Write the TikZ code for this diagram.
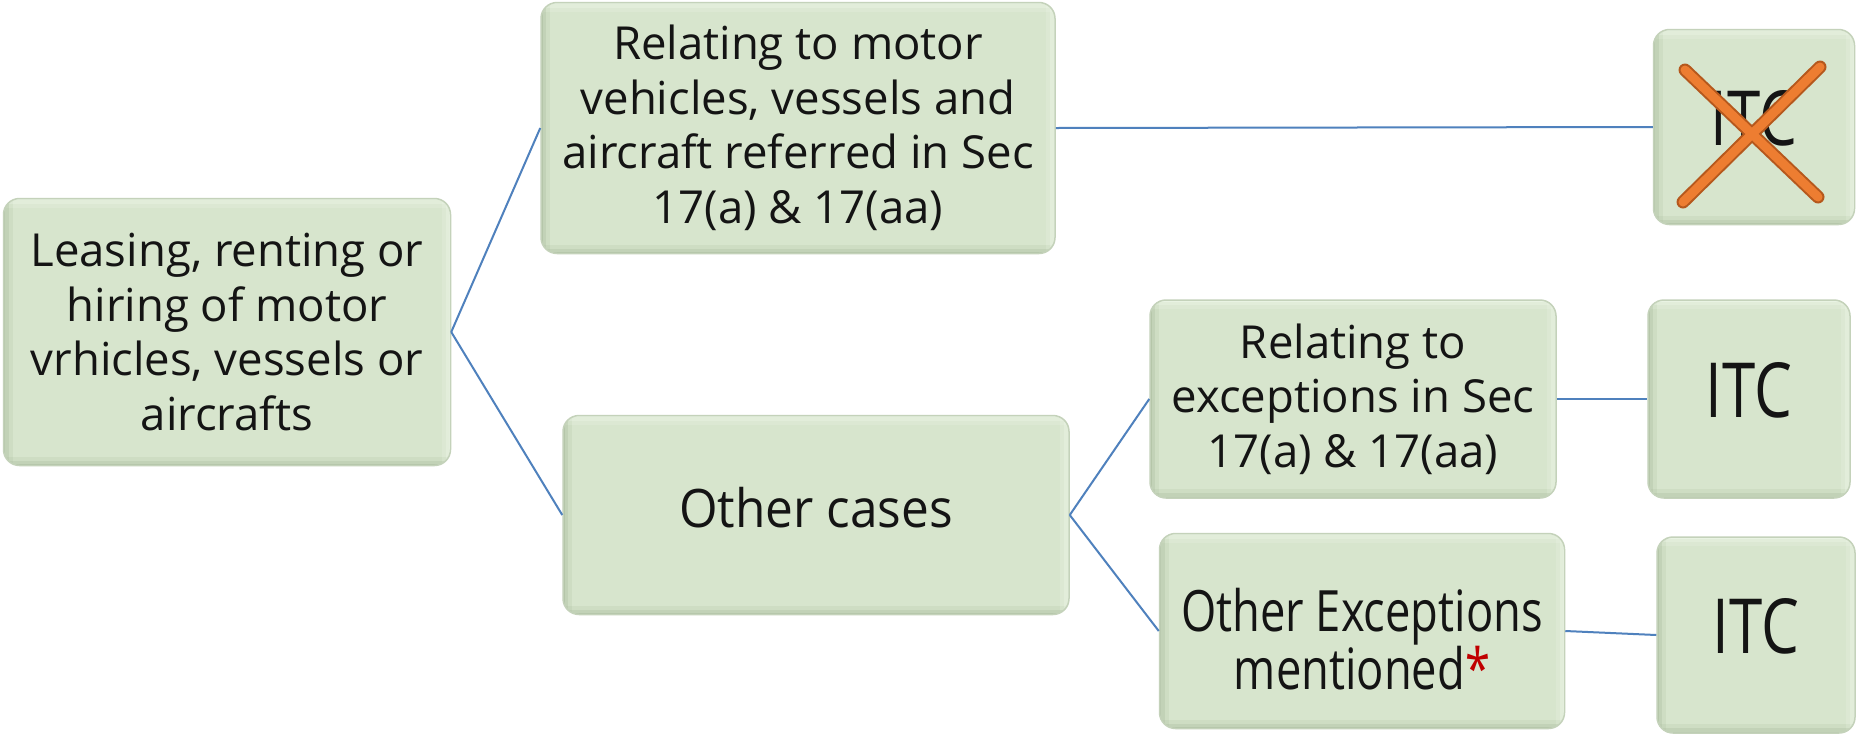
\documentclass[tikz,border=0pt]{standalone}
\usepackage{fontspec}
\setmainfont{Open Sans}
\usetikzlibrary{calc}

\definecolor{boxfill}{HTML}{D7E5CD}
\definecolor{boxedge}{HTML}{C4D2BA}
\definecolor{bevdark}{HTML}{A6B999}
\definecolor{bevlight}{HTML}{F3FBEF}
\definecolor{linkblue}{HTML}{4F81BD}
\definecolor{crossfill}{HTML}{ED7D31}
\definecolor{crossedge}{HTML}{B5581D}
\definecolor{starred}{HTML}{C00000}

% horizontally condensed block of centred lines
\newcommand{\squeezed}[2]{%
  \scalebox{#1}[1]{\begin{tabular}{@{}c@{}}#2\end{tabular}}}

\tikzset{
  box/.style={
    rounded corners=16pt, fill=boxfill, draw=boxedge, line width=1.5pt,
    align=center, inner sep=0pt, text=black!92,
    font=\fontsize{45.5}{54.5}\selectfont,
    path picture={
      \foreach \w/\o in {18/0.18, 10/0.28, 3/0.45}{
        \draw[bevdark, line width=\w pt, opacity=\o]
          (path picture bounding box.south west) -- (path picture bounding box.south east);
        \draw[bevdark, line width=\w pt, opacity=\o]
          (path picture bounding box.south west) -- (path picture bounding box.north west);
        \draw[bevlight, line width=\w pt, opacity=\o]
          (path picture bounding box.north west) -- (path picture bounding box.north east);
        \draw[bevlight, line width=\w pt, opacity=\o]
          (path picture bounding box.north east) -- (path picture bounding box.south east);
      }
    }},
  itcbox/.style={box, font=\fontsize{76}{90}\selectfont},
  bigtext/.style={font=\fontsize{53}{60}\selectfont},
  tighttext/.style={font=\fontsize{57}{47.6}\selectfont},
  link/.style={draw=linkblue, line width=2pt},
  crossout/.style={line width=13pt, line cap=round, draw=crossedge},
  crossin/.style={line width=9pt, line cap=round, draw=crossfill},
}

\begin{document}
\begin{tikzpicture}[x=1pt, y=-1pt]
  \fill[white] (0,0) rectangle (1859,737);
  \useasboundingbox (0,0) rectangle (1859,737);

  % boxes
  \node[box, minimum width=447pt, minimum height=267pt] (lease) at (227,332)
    {Leasing, renting or\\hiring of motor\\vrhicles, vessels or\\aircrafts};
  \node[box, minimum width=514pt, minimum height=251pt] (motor) at (798,128)
    {Relating to motor\\vehicles, vessels and\\aircraft referred in Sec\\17(a) \& 17(aa)};
  \node[itcbox, minimum width=201pt, minimum height=195pt] (itcA) at (1754,127)
    {\squeezed{0.79}{ITC}};
  \node[box, bigtext, minimum width=506pt, minimum height=199pt] (other) at (816,515)
    {\squeezed{0.935}{Other cases}};
  \node[box, minimum width=406pt, minimum height=198pt] (exc) at (1353,399)
    {Relating to\\exceptions in Sec\\17(a) \& 17(aa)};
  \node[itcbox, minimum width=202pt, minimum height=198pt] (itcB) at (1749,399)
    {\squeezed{0.79}{ITC}};
  \node[box, tighttext, minimum width=405pt, minimum height=195pt] (oexc) at (1362,631)
    {\raisebox{-15pt}[\height][\depth]{\squeezed{0.795}{Other Exceptions\\mentioned\textcolor{starred}{*}}}};
  \node[itcbox, minimum width=198pt, minimum height=196pt] (itcC) at (1756,635)
    {\squeezed{0.79}{ITC}};

  % cross over the first ITC
  \draw[crossout] ($(itcA.center)+(-69,-57)$) -- ($(itcA.center)+(64,70)$);
  \draw[crossout] ($(itcA.center)+(66,-60)$) -- ($(itcA.center)+(-71,75)$);
  \draw[crossin] ($(itcA.center)+(-69,-57)$) -- ($(itcA.center)+(64,70)$);
  \draw[crossin] ($(itcA.center)+(66,-60)$) -- ($(itcA.center)+(-71,75)$);

  % connectors
  \draw[link] (lease.east) -- (motor.west);
  \draw[link] (lease.east) -- (other.west);
  \draw[link] (motor.east) -- (itcA.west);
  \draw[link] (other.east) -- (exc.west);
  \draw[link] (other.east) -- (oexc.west);
  \draw[link] (exc.east) -- (itcB.west);
  \draw[link] (oexc.east) -- (itcC.west);
\end{tikzpicture}
\end{document}
